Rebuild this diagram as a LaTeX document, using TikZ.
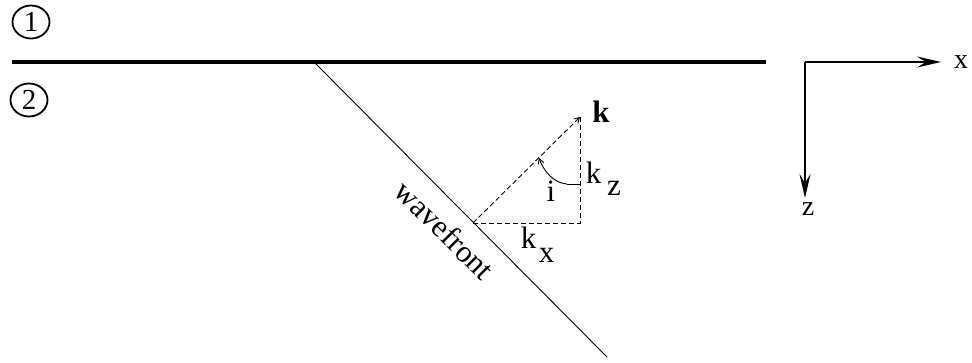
\documentclass[tikz,border=0pt]{standalone}
\usepackage{fontspec}
\setmainfont{Liberation Serif}
\usetikzlibrary{arrows.meta,shapes.geometric}
\begin{document}
\begin{tikzpicture}[x=1pt,y=-1pt,
  lbl/.style={inner sep=0pt, font=\fontsize{31}{34}\selectfont},
  axlbl/.style={inner sep=0pt, font=\fontsize{28}{30}\selectfont},
  medium/.style={draw, ellipse, line width=1.8pt, minimum width=37pt, minimum height=33pt, inner sep=0pt, font=\fontsize{29}{30}\selectfont},
  interface/.style={line width=3.5pt},
  thinline/.style={line width=0.9pt},
  dashline/.style={line width=0.9pt, dash pattern=on 5pt off 3pt},
  smalltip/.style={-{Straight Barb[length=5pt,width=6pt]}},
  axis/.style={line width=2.2pt, -{Stealth[length=24pt,width=11pt,inset=9pt]}}]
\useasboundingbox (0,0) rectangle (972,362);

% media labels
\node[medium] (m1) at (31,22) {1};
\node[medium] (m2) at (29,100) {2};

% interface
\coordinate (L) at (12,62);
\coordinate (R) at (766,62);
\draw[interface] (L) -- (R);

% wavefront
\coordinate (W1) at (315,63);
\coordinate (W2) at (607,357);
\draw[thinline] (W1) -- (W2);
\node[lbl, rotate=-45] (wf) at (445,230) {wavefront};

% wave vector triangle
\coordinate (A) at (473,223);
\coordinate (B) at (580,223);
\coordinate (C) at (580,117);
\draw[dashline] (A) -- (B) -- (C);
\draw[dashline, smalltip] (A) -- (C);

% angle
\coordinate (D) at (580,184);
\coordinate (E) at (567,184);
\coordinate (F) at (539,158);
\draw[thinline] (D) -- (E);
\draw[thinline, smalltip] (E) .. controls (554,183) and (544,172) .. (F);

% labels
\node[lbl, anchor=base, font=\fontsize{31}{34}\selectfont\bfseries] (kb) at (601,122) {k};
\node[lbl, anchor=base] (kz1) at (593.5,183) {k};
\node[lbl, anchor=base] (kz2) at (614,195) {z};
\node[lbl, anchor=base] (ii) at (551,201) {i};
\node[lbl, anchor=base] (kx1) at (528.5,248) {k};
\node[lbl, anchor=base] (kx2) at (546.5,262) {x};

% axes
\coordinate (O) at (805,62);
\coordinate (X) at (941,62);
\coordinate (Z) at (805,198);
\draw[axis] (O) -- (X);
\draw[axis] (O) -- (Z);
\node[axlbl, anchor=base] (xl) at (961,68) {x};
\node[axlbl, anchor=base] (zl) at (808,215) {z};
\end{tikzpicture}
\end{document}
